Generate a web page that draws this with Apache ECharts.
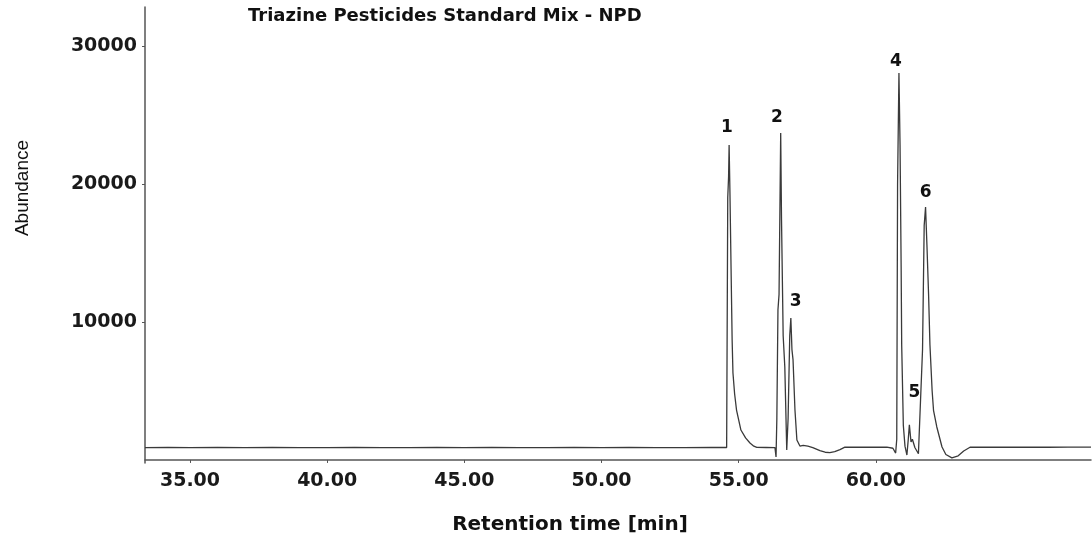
<!DOCTYPE html>
<html>
<head>
<meta charset="utf-8">
<script src="https://cdn.jsdelivr.net/npm/echarts@6/dist/echarts.min.js"></script>
<style>html,body{margin:0;padding:0;background:#fff}#c{width:1092px;height:542px}</style>
</head>
<body>
<div id="c"></div>
<script>
// Retention time [min]
const retentionTime = [
  33.36, 34.2, 35.0, 36.0, 37.0, 38.0, 39.0, 40.0, 41.0, 42.0, 43.0, 44.0, 45.0, 46.0, 47.0, 48.0, 49.0, 50.0, 51.0, 52.0, 53.0, 54.0, 54.56,
  54.60, 54.63, 54.65, 54.68, 54.72, 54.76, 54.79, 54.85, 54.92, 55.08, 55.25, 55.41, 55.55, 55.66, 56.0, 56.32,
  56.36, 56.39, 56.43, 56.47, 56.53, 56.56, 56.62, 56.68, 56.75, 56.80, 56.86, 56.90, 56.94, 56.98, 57.05, 57.12, 57.23,
  57.35, 57.52, 57.70, 57.96, 58.15, 58.32, 58.50, 58.69, 58.87, 59.2, 59.6, 60.0, 60.4, 60.62, 60.72,
  60.76, 60.79, 60.84, 60.88, 60.92, 60.94, 61.00, 61.06, 61.13, 61.18, 61.22, 61.28, 61.33, 61.42, 61.55, 61.62,
  61.70, 61.76, 61.81, 61.86, 61.92, 61.97, 62.05, 62.10, 62.22, 62.41, 62.55, 62.77, 63.00, 63.20, 63.43,
  64.0, 64.8, 65.5, 66.3, 67.0, 67.84
];
const abundance = [
  900, 910, 895, 905, 900, 910, 895, 900, 905, 900, 895, 905, 900, 910, 900, 895, 905, 900, 910, 900, 895, 905, 905,
  19000, 20500, 22830, 19420, 14000, 8700, 6300, 4800, 3620, 2170, 1600, 1230, 1000, 910, 905, 900,
  220, 3000, 10870, 12000, 23700, 17400, 9000, 6740, 720, 3000, 9000, 10290, 8000, 7250, 3620, 1450, 1010,
  1050, 1000, 900, 680, 560, 530, 600, 750, 930, 920, 930, 920, 930, 850, 500,
  1500, 20000, 28040, 22830, 14000, 8330, 2500, 1000, 360, 1500, 2540, 1300, 1500, 900, 450, 500,
  8000, 17000, 18330, 15580, 12000, 8330, 5000, 3600, 2390, 940, 400, 150, 300, 650, 920,
  930, 920, 930, 920, 930, 925
];
// Peak labels (label anchor positions)
const peakNames = ['1', '2', '3', '4', '5', '6'];
const peakLabelTime = [54.57, 56.39, 57.08, 60.73, 61.40, 61.81];
const peakLabelAbundance = [24060, 24780, 11450, 28900, 4900, 19400];

const xTicks = [35, 40, 45, 50, 55, 60];
const yTicks = [10000, 20000, 30000];

const chart = echarts.init(document.getElementById('c'));
const lineData = retentionTime.map((t, i) => [t, abundance[i]]);
const labelData = peakNames.map((n, i) => ({ name: n, value: [peakLabelTime[i], peakLabelAbundance[i]] }));

chart.setOption({
  animation: false,
  backgroundColor: '#ffffff',
  title: {
    text: 'Triazine Pesticides Standard Mix - NPD',
    left: 248, top: 7, padding: 0,
    textStyle: { fontFamily: 'DejaVu Sans', fontWeight: 'bold', fontSize: 18, color: '#111' }
  },
  graphic: [
    { type: 'text', x: 23, y: 188, rotation: Math.PI / 2,
      style: { text: 'Abundance', fontFamily: 'Liberation Sans', fontSize: 19, fill: '#111', textAlign: 'center', textVerticalAlign: 'middle' } },
    { type: 'text', x: 570, y: 525,
      style: { text: 'Retention time [min]', fontFamily: 'DejaVu Sans', fontWeight: 'bold', fontSize: 20, fill: '#111', textAlign: 'center', textVerticalAlign: 'middle' } }
  ],
  grid: { left: 145, right: 1, top: 7, bottom: 79, containLabel: false },
  xAxis: {
    type: 'value', min: 33.36, max: 67.84,
    splitLine: { show: false },
    axisLine: { show: true, lineStyle: { color: '#555', width: 1.5 } },
    axisTick: { show: true, length: 3, customValues: xTicks, lineStyle: { color: '#555' } },
    axisLabel: { customValues: xTicks, margin: 9, formatter: v => v.toFixed(2),
      fontFamily: 'DejaVu Sans', fontWeight: 'bold', fontSize: 19, color: '#1a1a1a' }
  },
  yAxis: {
    type: 'value', min: -220, max: 32830,
    splitLine: { show: false },
    axisLine: { show: true, lineStyle: { color: '#555', width: 1.5 } },
    axisTick: { show: true, length: 3, customValues: yTicks, lineStyle: { color: '#555' } },
    axisLabel: { customValues: yTicks, margin: 8, formatter: v => String(v),
      fontFamily: 'DejaVu Sans', fontWeight: 'bold', fontSize: 19, color: '#1a1a1a' }
  },
  series: [
    { type: 'line', data: lineData, showSymbol: false, symbol: 'none',
      lineStyle: { color: '#3a3a3a', width: 1.3 }, z: 3 },
    { type: 'scatter', data: labelData, symbolSize: 0.01, silent: true,
      itemStyle: { color: '#111', opacity: 1 },
      label: { show: true, position: 'inside', formatter: p => p.name, opacity: 1,
        fontFamily: 'DejaVu Sans', fontWeight: 'bold', fontSize: 17, color: '#111', textBorderWidth: 0 } }
  ]
});
</script>
</body>
</html>
